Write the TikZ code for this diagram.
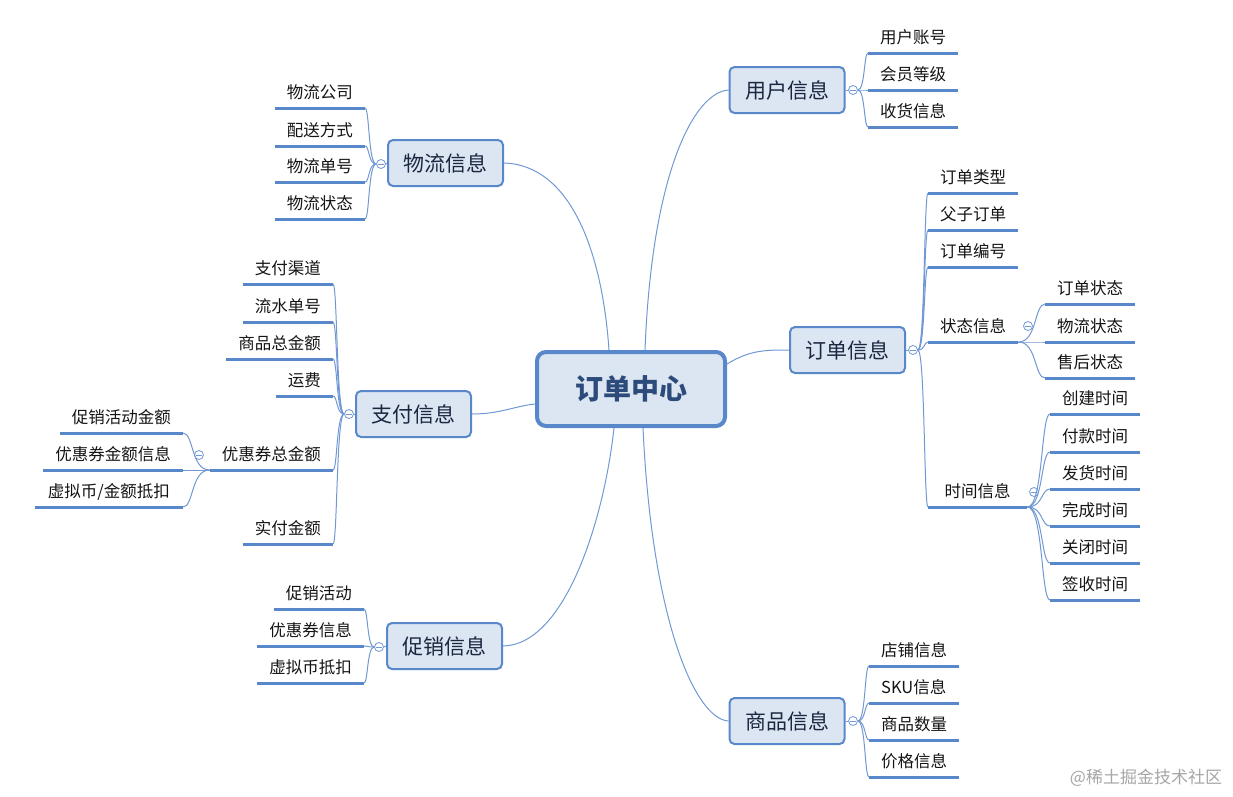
\documentclass[tikz,border=0pt]{standalone}
\usepackage{fontspec}
\setmainfont{Noto Sans CJK SC}
\usetikzlibrary{calc}
\definecolor{bline}{RGB}{88,136,202}
\definecolor{bfill}{RGB}{220,230,242}
\definecolor{thinc}{RGB}{112,152,212}
\definecolor{ttext}{RGB}{28,38,64}
\definecolor{ctext}{RGB}{44,74,122}
\definecolor{ltext}{RGB}{20,20,20}
\newcommand\mmbranch[2]{\draw[branch] let \p1=(#1), \p2=(#2) in (\p1) .. controls ({0.3*\x1+0.7*\x2},\y1) and ({0.4*\x1+0.6*\x2},\y2) .. (\p2);}
\begin{document}
\begin{tikzpicture}[x=1pt,y=-1pt,
  leafR/.style={anchor=south west, inner xsep=12pt, inner ysep=6pt, text height=13pt, text depth=3.5pt, text=ltext, font=\fontsize{16.5}{18}\selectfont},
  leafL/.style={leafR, anchor=south east},
  uline/.style={draw=bline, line width=3pt},
  topic/.style={draw=bline, fill=bfill, line width=2pt, rounded corners=5pt, minimum width=115pt, minimum height=46pt, inner sep=0pt, font=\fontsize{21}{24}\selectfont, text=ttext},
  central/.style={draw=bline, fill=bfill, line width=4pt, rounded corners=9pt, minimum width=188pt, minimum height=74pt, inner sep=0pt, font=\fontsize{28}{30}\selectfont\bfseries, text=ctext},
  branch/.style={draw=thinc, line width=1pt},
  link/.style={draw=thinc, line width=1pt},
  collapse/.style={circle, draw=thinc, fill=white, line width=0.8pt, minimum size=9pt, inner sep=0pt,
    path picture={\draw[thinc, line width=0.8pt] ([xshift=-2.6pt]path picture bounding box.center) -- ([xshift=2.6pt]path picture bounding box.center);}}
]
\useasboundingbox (0,0) rectangle (1233,796);

% central and topics
\node[central] (c) at (631,389) {订单中心};
\node[topic] (tu) at (787,90) {用户信息};
\node[topic] (td) at (847.5,350) {订单信息};
\node[topic] (tg) at (787,721) {商品信息};
\node[topic] (tw) at (445.5,163) {物流信息};
\node[topic] (tz) at (413.5,414) {支付信息};
\node[topic] (tp) at (444.5,646) {促销信息};

% links from center
\draw[link] (tu.west) .. controls (695,92) and (652,170) .. (645,350);
\draw[link] (c.east |- 0,364) coordinate (ce) .. controls (750,350) and (765,350) .. (td.west);
\draw[link] (tg.west) .. controls (695,719) and (652,620) .. (643,428);
\draw[link] (tw.east) .. controls (570,165) and (602,250) .. (609,350);
\draw[link] (tz.east) .. controls (500,414) and (515,406) .. (535,404);
\draw[link] (tp.east) .. controls (565,645) and (604,520) .. (614,428);

% collapse markers
\node[collapse] (cu) at (853,90) {};
\node[collapse] (cd) at (913,350) {};
\node[collapse] (cs) at (1028,326) {};
\node[collapse] (ct) at (1034,492) {};
\node[collapse] (cw) at (381,164) {};
\node[collapse] (cz) at (349,414) {};
\node[collapse] (cy) at (199,455) {};
\node[collapse] (cp) at (379,647) {};
\node[collapse] (cg) at (853,721) {};

\draw[link] (tu.east) -- (cu.west);
\draw[link] (td.east) -- (cd.west);
\draw[link] (tg.east) -- (cg.west);
\draw[link] (tw.west) -- (cw.east);
\draw[link] (tz.west) -- (cz.east);
\draw[link] (tp.west) -- (cp.east);

% user info
\node[leafR] (u1) at (868,53) {用户账号};
\node[leafR] (u2) at (868,90) {会员等级};
\node[leafR] (u3) at (868,127) {收货信息};

% order info
\node[leafR] (d1) at (928,193) {订单类型};
\node[leafR] (d2) at (928,230) {父子订单};
\node[leafR] (d3) at (928,267) {订单编号};
\node[leafR] (d4) at (928,342) {状态信息};
\node[leafR, minimum width=99pt] (d5) at (928,507) {时间信息};
\node[leafR] (s1) at (1045,304) {订单状态};
\node[leafR] (s2) at (1045,342) {物流状态};
\node[leafR] (s3) at (1045,378) {售后状态};
\node[leafR] (m1) at (1050,414) {创建时间};
\node[leafR] (m2) at (1050,452) {付款时间};
\node[leafR] (m3) at (1050,489) {发货时间};
\node[leafR] (m4) at (1050,526) {完成时间};
\node[leafR] (m5) at (1050,563) {关闭时间};
\node[leafR] (m6) at (1050,600) {签收时间};

% goods info
\node[leafR] (g1) at (869,666) {店铺信息};
\node[leafR] (g2) at (869,703) {SKU信息};
\node[leafR] (g3) at (869,740) {商品数量};
\node[leafR] (g4) at (869,777) {价格信息};

% logistics
\node[leafL] (w1) at (365,108) {物流公司};
\node[leafL] (w2) at (365,146) {配送方式};
\node[leafL] (w3) at (365,182) {物流单号};
\node[leafL] (w4) at (365,219) {物流状态};

% payment
\node[leafL] (z1) at (333,284) {支付渠道};
\node[leafL] (z2) at (333,322) {流水单号};
\node[leafL] (z3) at (333,359) {商品总金额};
\node[leafL] (z4) at (333,396) {运费};
\node[leafL] (z5) at (333,470) {优惠券总金额};
\node[leafL] (z6) at (333,544) {实付金额};
\node[leafL] (y1) at (183,433) {促销活动金额};
\node[leafL] (y2) at (183,470) {优惠券金额信息};
\node[leafL, minimum width=148pt] (y3) at (183,507) {虚拟币/金额抵扣};

% promotion
\node[leafL] (p1) at (364,609) {促销活动};
\node[leafL] (p2) at (364,646) {优惠券信息};
\node[leafL] (p3) at (364,683) {虚拟币抵扣};

% underlines
\foreach \k in {u1,u2,u3,d1,d2,d3,d4,d5,s1,s2,s3,m1,m2,m3,m4,m5,m6,g1,g2,g3,g4,w1,w2,w3,w4,z1,z2,z3,z4,z5,z6,y1,y2,y3,p1,p2,p3}
  \draw[uline] (\k.south west) -- (\k.south east);

% branches
\foreach \k in {u1,u2,u3} {\mmbranch{cu.east}{\k.south west}}
\foreach \k in {d1,d2,d3,d4,d5} {\mmbranch{cd.east}{\k.south west}}
\foreach \k in {s1,s2,s3} {\mmbranch{d4.south east}{\k.south west}}
\foreach \k in {m1,m2,m3,m4,m5,m6} {\mmbranch{d5.south east}{\k.south west}}
\foreach \k in {g1,g2,g3,g4} {\mmbranch{cg.east}{\k.south west}}
\foreach \k in {w1,w2,w3,w4} {\mmbranch{cw.west}{\k.south east}}
\foreach \k in {z1,z2,z3,z4,z5,z6} {\mmbranch{cz.west}{\k.south east}}
\foreach \k in {y1,y2,y3} {\mmbranch{z5.south west}{\k.south east}}
\foreach \k in {p1,p2,p3} {\mmbranch{cp.west}{\k.south east}}

% watermark
\node[text=black!35, font=\fontsize{17}{20}\selectfont, inner sep=0pt] (wm) at (1146,778) {@稀土掘金技术社区};
\end{tikzpicture}
\end{document}
